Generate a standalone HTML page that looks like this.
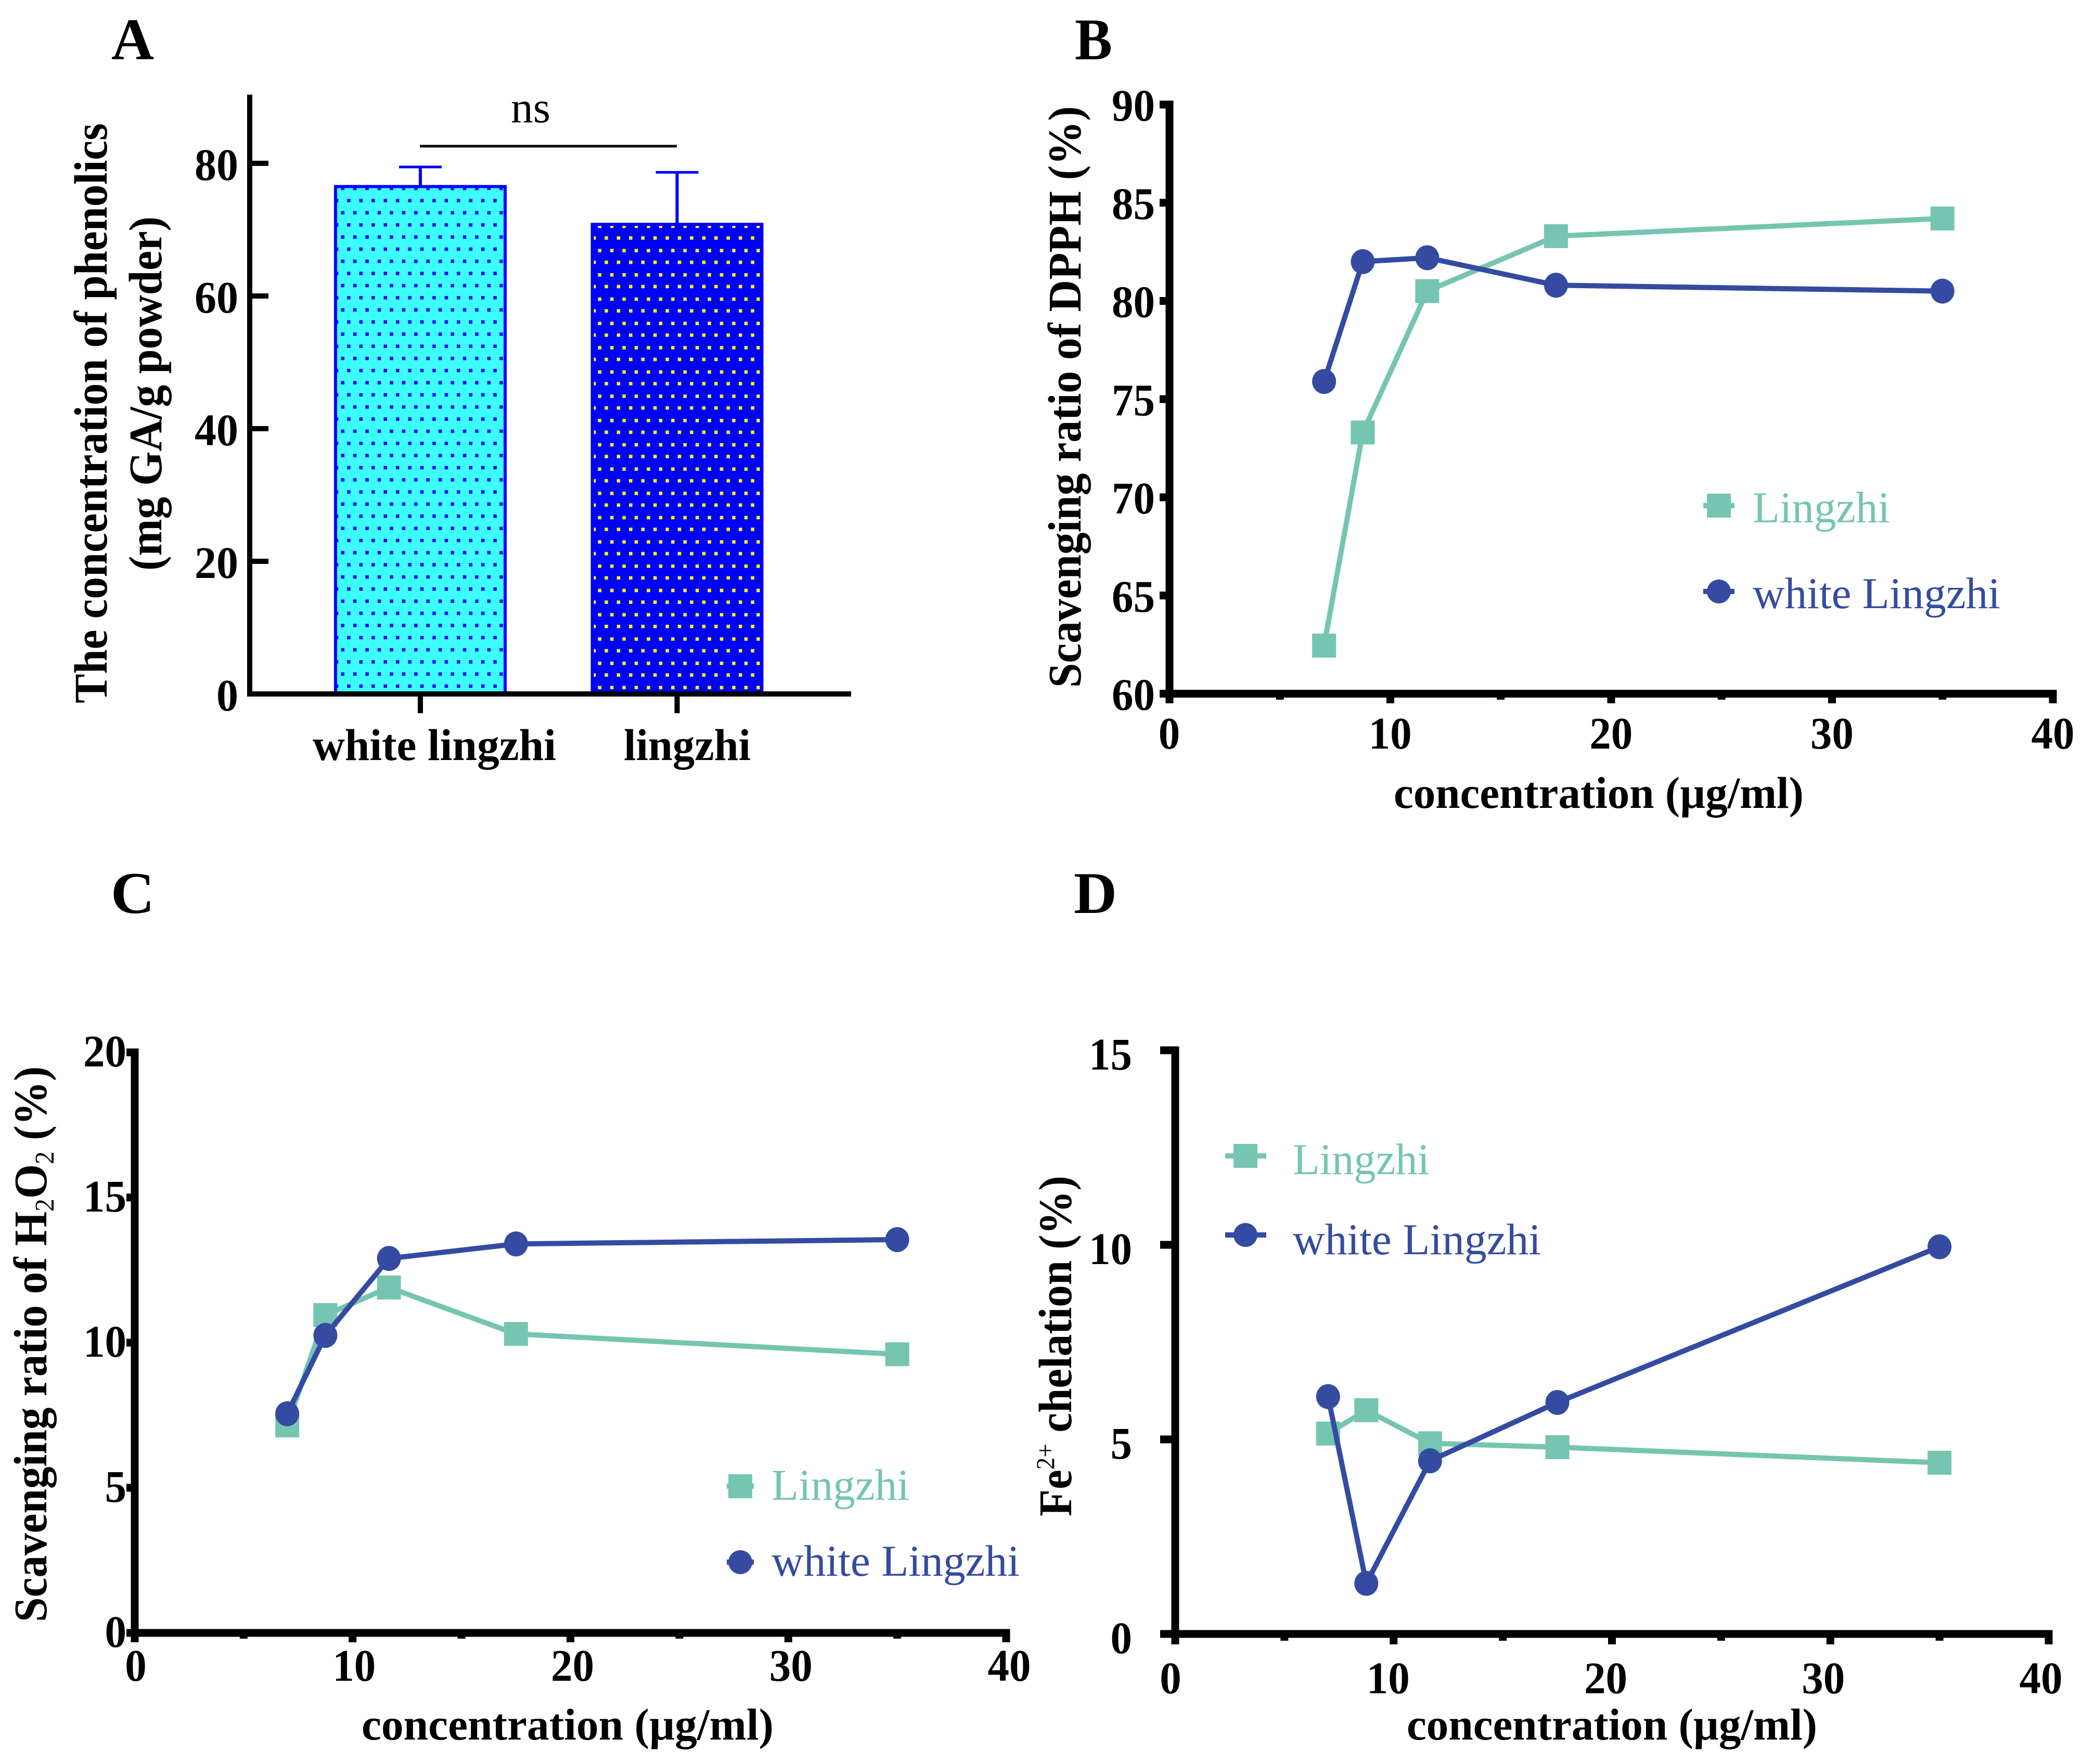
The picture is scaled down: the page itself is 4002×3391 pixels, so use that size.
<!DOCTYPE html>
<html lang="en">
<head>
<meta charset="utf-8">
<title>Phenolics and antioxidant activity of Lingzhi</title>
<style>
html,body{margin:0;padding:0;background:#fff}
svg{display:block}
text{font-family:"Liberation Serif",serif;fill:#000}
.b{font-weight:bold}
.panel{font-size:113px;font-weight:bold}
.title{font-size:90px;font-weight:bold}
.xtitle{font-size:86px;font-weight:bold}
.tick{font-size:87px;font-weight:bold}
.cat{font-size:86px;font-weight:bold}
.leg{font-size:85px}
.teal{fill:#75c5b1}
.blue{fill:#344ba1}
</style>
</head>
<body>
<svg id="figure" xmlns="http://www.w3.org/2000/svg" width="4002" height="3391" viewBox="0 0 4002 3391">
<defs>
<pattern id="dotsBlue" patternUnits="userSpaceOnUse" x="641.3" y="350.6" width="23.43" height="46.67">
<rect width="23.43" height="46.67" fill="#3dffff"/>
<rect x="14.2" y="8.5" width="6.5" height="6.5" fill="#0000ff"/>
<rect x="2.5" y="31.8" width="6.5" height="6.5" fill="#0000ff"/>
</pattern>
<pattern id="dotsYellow" patternUnits="userSpaceOnUse" x="1136.3" y="423.3" width="23.43" height="46.67">
<rect width="23.43" height="46.67" fill="#0000ff"/>
<rect x="13.2" y="8.5" width="6.5" height="6.5" fill="#ffff00"/>
<rect x="2.5" y="31" width="6.5" height="6.5" fill="#ffff00"/>
</pattern>
</defs>
<rect width="4002" height="3391" fill="#fff"/>

<text class="panel" x="214" y="114" textLength="82" lengthAdjust="spacingAndGlyphs">A</text>
<text class="panel" x="2066" y="114" textLength="72" lengthAdjust="spacingAndGlyphs">B</text>
<text class="panel" x="213" y="1755" textLength="84" lengthAdjust="spacingAndGlyphs">C</text>
<text class="panel" x="2064" y="1755" textLength="83" lengthAdjust="spacingAndGlyphs">D</text>

<!-- axis titles -->
<text class="title" transform="translate(205,1352) rotate(-90)" textLength="1115" lengthAdjust="spacingAndGlyphs">The concentration of phenolics</text>
<text class="title" transform="translate(310,1097) rotate(-90)" textLength="681" lengthAdjust="spacingAndGlyphs">(mg GA/g powder)</text>
<text class="title" transform="translate(2077,1322) rotate(-90)" textLength="1118" lengthAdjust="spacingAndGlyphs">Scavenging ratio of DPPH (%)</text>
<text class="xtitle" x="2679" y="1553" textLength="788" lengthAdjust="spacingAndGlyphs">concentration (µg/ml)</text>

<text class="title" transform="translate(89,3118) rotate(-90) scale(0.948,1)"><tspan>Scavenging ratio of H</tspan><tspan font-size="52" dy="14" font-weight="normal">2</tspan><tspan dy="-14">O</tspan><tspan font-size="52" dy="14" font-weight="normal">2</tspan><tspan dy="-14"> (%)</tspan></text>
<text class="xtitle" x="695" y="3344" textLength="792" lengthAdjust="spacingAndGlyphs">concentration (µg/ml)</text>

<text class="title" transform="translate(2059,2915) rotate(-90) scale(0.945,1)"><tspan>Fe</tspan><tspan font-size="50" dy="-33" font-weight="normal">2+</tspan><tspan dy="33"> chelation (%)</tspan></text>
<text class="xtitle" x="2704" y="3344" textLength="789" lengthAdjust="spacingAndGlyphs">concentration (µg/ml)</text>

<!-- panel A significance annotation -->
<rect x="807" y="278.5" width="494" height="5" fill="#000"/>
<text x="982" y="235" font-size="85" textLength="76" lengthAdjust="spacingAndGlyphs">ns</text>

<g id="plots"></g>

<!-- legends -->
<g>
<rect x="3274" y="967" width="60" height="10" fill="#75c5b1"/>
<rect x="3281" y="949" width="46" height="46" fill="#75c5b1"/>
<text class="leg teal" x="3369" y="1004" textLength="264" lengthAdjust="spacingAndGlyphs">Lingzhi</text>
<rect x="3274" y="1132" width="60" height="10" fill="#344ba1"/>
<circle cx="3304" cy="1137" r="23" fill="#344ba1"/>
<text class="leg blue" x="3369" y="1169" textLength="476" lengthAdjust="spacingAndGlyphs">white Lingzhi</text>
</g>
<g>
<rect x="1397" y="2852" width="52" height="10" fill="#75c5b1"/>
<rect x="1400" y="2834" width="46" height="46" fill="#75c5b1"/>
<text class="leg teal" x="1483" y="2883" textLength="265" lengthAdjust="spacingAndGlyphs">Lingzhi</text>
<rect x="1397" y="2998" width="52" height="10" fill="#344ba1"/>
<circle cx="1423" cy="3003" r="23" fill="#344ba1"/>
<text class="leg blue" x="1483" y="3029" textLength="477" lengthAdjust="spacingAndGlyphs">white Lingzhi</text>
</g>
<g>
<rect x="2355" y="2217" width="79" height="10" fill="#75c5b1"/>
<rect x="2371" y="2199" width="46" height="46" fill="#75c5b1"/>
<text class="leg teal" x="2485" y="2257" textLength="263" lengthAdjust="spacingAndGlyphs">Lingzhi</text>
<rect x="2355" y="2369" width="79" height="10" fill="#344ba1"/>
<circle cx="2394" cy="2374" r="23" fill="#344ba1"/>
<text class="leg blue" x="2485" y="2411" textLength="477" lengthAdjust="spacingAndGlyphs">white Lingzhi</text>
</g>
</svg>

<script>
// Panel A data
const barCategories = ['white lingzhi', 'lingzhi'];
const barValues = [76.5, 70.8];
const barErrors = [2.95, 7.85];
const barTicks = [0, 20, 40, 60, 80];

// Panels B, C, D data
const concentrations = [7, 8.75, 11.67, 17.5, 35];
const xTicks = [0, 10, 20, 30, 40];
const xMinorTicks = [5, 15, 25, 35];

const dpphTicks = [60, 65, 70, 75, 80, 85, 90];
const dpphLingzhi = [62.45, 73.3, 80.5, 83.3, 84.2];
const dpphWhite = [75.9, 82.0, 82.2, 80.8, 80.5];

const h2o2Ticks = [0, 5, 10, 15, 20];
const h2o2Lingzhi = [7.15, 10.95, 11.9, 10.3, 9.6];
const h2o2White = [7.55, 10.25, 12.9, 13.4, 13.55];

const feTicks = [0, 5, 10, 15];
const feLingzhi = [5.15, 5.75, 4.9, 4.8, 4.4];
const feWhite = [6.1, 1.3, 4.45, 5.95, 9.95];

const NS = 'http://www.w3.org/2000/svg';
const plots = document.getElementById('plots');
const TEAL = '#75c5b1';
const BLUE = '#344ba1';

function make(parent, tag, attrs, text) {
  const node = document.createElementNS(NS, tag);
  for (const key in attrs) node.setAttribute(key, attrs[key]);
  if (text !== undefined) node.textContent = text;
  parent.appendChild(node);
  return node;
}

/* ---------- Panel A: bars ---------- */
(function drawBars() {
  const g = make(plots, 'g', {});
  
  
  const yZero = 1334, yEighty = 314;
  const sy = v => yZero - v * (yZero - yEighty) / 80;
  const catX = i => 808 + i * 493.5;
  const fills = ['url(#dotsBlue)', 'url(#dotsYellow)'];

  barValues.forEach((v, i) => {
    const cx = catX(i);
    const top = sy(v);
    const errTop = sy(v + barErrors[i]);
    const bar = make(g, 'rect', {x: cx - 163, y: top, width: 326, height: yZero - top, fill: fills[i], stroke: '#0000ff', 'stroke-width': 6});
    
    
    const stem = make(g, 'line', {x1: cx, x2: cx, y1: top, y2: errTop, stroke: '#0000ff', 'stroke-width': 6});
    
    
    const cap = make(g, 'line', {x1: cx - 41, x2: cx + 41, y1: errTop, y2: errTop, stroke: '#0000ff', 'stroke-width': 5});
    
    
    const tk = make(g, 'rect', {x: cx - 5, y: yZero, width: 10, height: 37, fill: '#000'});
    
    
    const lab = make(g, 'text', {class: 'cat', x: cx + (i === 0 ? 27 : 19.5), y: 1461, 'text-anchor': 'middle', textLength: i === 0 ? 468 : 244, lengthAdjust: 'spacingAndGlyphs'}, barCategories[i]);
    
    
  });

  const yAxis = make(g, 'rect', {x: 475, y: 182, width: 10, height: 1157, fill: '#000'});
  
  
  const xAxis = make(g, 'rect', {x: 475, y: 1329, width: 1161, height: 10, fill: '#000'});
  
  

  barTicks.forEach(v => {
    const tk = make(g, 'rect', {x: 480, y: sy(v) - 5, width: 36, height: 10, fill: '#000'});
    
    
    const s = String(v);
    const lab = make(g, 'text', {class: 'tick', x: 458, y: sy(v) + 32, 'text-anchor': 'end', textLength: 42 * s.length, lengthAdjust: 'spacingAndGlyphs'}, s);
    
    
  });
})();

/* ---------- Panels B, C, D: line charts ---------- */
function drawLine(name, geo, yTicks, lingzhi, white) {
  const g = make(plots, 'g', {});
  
  

  const yMin = yTicks[0];
  const yMax = yTicks[yTicks.length - 1];
  const sx = v => geo.x0 + v * (geo.x40 - geo.x0) / 40;
  const sy = v => geo.y0 - (v - yMin) * (geo.y0 - geo.yTop) / (yMax - yMin);
  const lx = v => geo.lx0 + v * (geo.lx40 - geo.lx0) / 40;
  const W = 15;

  const yAxis = make(g, 'rect', {x: geo.x0 - W / 2, y: geo.yTop - W / 2, width: W, height: geo.y0 - geo.yTop + W / 2 + geo.major, fill: '#000'});
  
  
  const xAxis = make(g, 'rect', {x: geo.x0 - W / 2, y: geo.y0 - W / 2, width: geo.x40 - geo.x0 + W, height: W, fill: '#000'});
  
  

  yTicks.forEach(v => {
    const tk = make(g, 'rect', {x: geo.tickLeft, y: sy(v) - W / 2, width: geo.x0 - geo.tickLeft, height: W, fill: '#000'});
    
    
    const s = String(v);
    const lab = make(g, 'text', {class: 'tick', x: geo.labelRight, y: sy(v) + geo.labelDy, 'text-anchor': 'end', textLength: 41.5 * s.length, lengthAdjust: 'spacingAndGlyphs'}, s);
    
    
  });

  xTicks.forEach(v => {
    const tk = make(g, 'rect', {x: sx(v) - W / 2, y: geo.y0, width: W, height: geo.major, fill: '#000'});
    
    
    const s = String(v);
    const lab = make(g, 'text', {class: 'tick', x: lx(v), y: geo.xLabelY, 'text-anchor': 'middle', textLength: 41.5 * s.length, lengthAdjust: 'spacingAndGlyphs'}, s);
    
    
  });
  xMinorTicks.forEach(v => {
    const tk = make(g, 'rect', {x: sx(v) - W / 2, y: geo.y0, width: W, height: geo.minor, fill: '#000'});
    
    
  });

  function series(values, color, kind) {
    const pts = values.map((v, i) => sx(concentrations[i]) + ',' + sy(v)).join(' ');
    const line = make(g, 'polyline', {points: pts, fill: 'none', stroke: color, 'stroke-width': 10, 'stroke-linejoin': 'round'});
    
    
    values.forEach((v, i) => {
      const cx = sx(concentrations[i]);
      const cy = sy(v);
      const mark = kind === 'lingzhi'
        ? make(g, 'rect', {x: cx - 23, y: cy - 23, width: 46, height: 46, fill: color})
        : make(g, 'ellipse', {cx: cx, cy: cy, rx: 23, ry: 24, fill: color});
      
      
    });
  }
  series(lingzhi, TEAL, 'lingzhi');
  series(white, BLUE, 'white-lingzhi');
}

drawLine('panel-b', {x0: 2248, x40: 3946, y0: 1333.5, yTop: 201, tickLeft: 2229, labelRight: 2220, labelDy: 31, major: 18.5, minor: 11.5, lx0: 2247.5, lx40: 3946, xLabelY: 1439}, dpphTicks, dpphLingzhi, dpphWhite);
drawLine('panel-c', {x0: 259, x40: 1934, y0: 3139, yTop: 2023, tickLeft: 243, labelRight: 243, labelDy: 27, major: 18, minor: 11, lx0: 261, lx40: 1940, xLabelY: 3231}, h2o2Ticks, h2o2Lingzhi, h2o2White);
drawLine('panel-d', {x0: 2259, x40: 3938, y0: 3141, yTop: 2019, tickLeft: 2230, labelRight: 2176, labelDy: 37, major: 20, minor: 13, lx0: 2250, lx40: 3923, xLabelY: 3255}, feTicks, feLingzhi, feWhite);
</script>
</body>
</html>
